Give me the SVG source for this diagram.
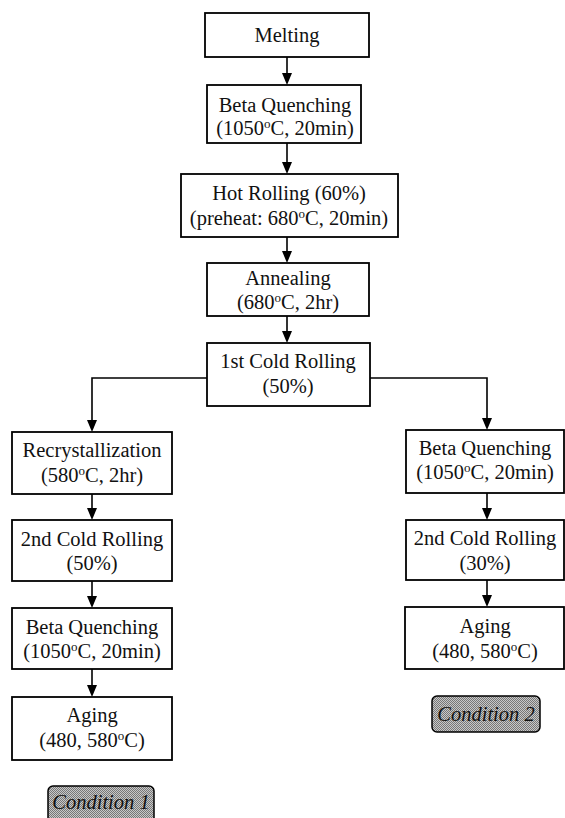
<svg xmlns="http://www.w3.org/2000/svg" width="565" height="818" viewBox="0 0 565 818">
<style>
.box{fill:#fff;stroke:#000;stroke-width:1.8}
text{font-family:'Liberation Serif','Times New Roman',Times,'DejaVu Serif',serif}
.t{font-size:20.5px;text-anchor:middle;fill:#111}
.sup{font-size:13px}
.cond{fill:url(#hatch);stroke:#000;stroke-width:1.5}
.ct{font-size:20.5px;font-style:italic;text-anchor:middle;fill:#111}
.c{fill:none;stroke:#000;stroke-width:1.6}
</style>
<defs>
<pattern id="hatch" width="2" height="2" patternUnits="userSpaceOnUse">
<rect width="2" height="2" fill="#c8c8c8"/>
<rect width="1" height="1" fill="#777"/>
<rect x="1" y="1" width="1" height="1" fill="#777"/>
</pattern>
</defs>
<rect width="565" height="818" fill="#fff"/>
<g id="connectors">
<path class="c" d="M287,57 V73"/>
<path class="c" d="M287,143 V162"/>
<path class="c" d="M287,237 V251"/>
<path class="c" d="M287,316 V331"/>
<path class="c" d="M207,378 H92 V420"/>
<path class="c" d="M370,378 H487 V418"/>
<path class="c" d="M92,494 V508"/>
<path class="c" d="M92,581 V596"/>
<path class="c" d="M92,669 V685"/>
<path class="c" d="M487,493 V508"/>
<path class="c" d="M487,580 V595"/>
<g fill="#000">
<path d="M282,73 L292,73 L287,85 Z"/>
<path d="M282,162 L292,162 L287,174 Z"/>
<path d="M282,251 L292,251 L287,263 Z"/>
<path d="M282,331 L292,331 L287,343 Z"/>
<path d="M87,420 L97,420 L92,432 Z"/>
<path d="M482,418 L492,418 L487,430 Z"/>
<path d="M87,508 L97,508 L92,520 Z"/>
<path d="M87,596 L97,596 L92,608 Z"/>
<path d="M87,685 L97,685 L92,697 Z"/>
<path d="M482,508 L492,508 L487,520 Z"/>
<path d="M482,595 L492,595 L487,607 Z"/>
</g>
</g>
<g id="melting">
<rect class="box" x="205" y="13" width="164" height="44"/>
<text class="t" x="287" y="42">Melting</text>
</g>
<g id="beta1">
<rect class="box" x="207" y="85" width="154" height="58"/>
<text class="t" x="285" y="112">Beta Quenching</text>
<text class="t" x="285" y="135">(1050<tspan class="sup" dy="-7">o</tspan><tspan dy="7">C, 20min)</tspan></text>
</g>
<g id="hotrolling">
<rect class="box" x="181" y="174" width="217" height="63"/>
<text class="t" x="289" y="200">Hot Rolling (60%)</text>
<text class="t" x="289" y="225">(preheat: 680<tspan class="sup" dy="-7">o</tspan><tspan dy="7">C, 20min)</tspan></text>
</g>
<g id="annealing">
<rect class="box" x="207" y="263" width="162" height="53"/>
<text class="t" x="288" y="285">Annealing</text>
<text class="t" x="288" y="309">(680<tspan class="sup" dy="-7">o</tspan><tspan dy="7">C, 2hr)</tspan></text>
</g>
<g id="cold1">
<rect class="box" x="207" y="343" width="163" height="63"/>
<text class="t" x="288" y="368">1st Cold Rolling</text>
<text class="t" x="288" y="393">(50%)</text>
</g>
<g id="recryst">
<rect class="box" x="12" y="432" width="160" height="62"/>
<text class="t" x="92" y="457">Recrystallization</text>
<text class="t" x="92" y="482">(580<tspan class="sup" dy="-7">o</tspan><tspan dy="7">C, 2hr)</tspan></text>
</g>
<g id="cold2a">
<rect class="box" x="12" y="520" width="160" height="61"/>
<text class="t" x="92" y="546">2nd Cold Rolling</text>
<text class="t" x="92" y="570">(50%)</text>
</g>
<g id="beta2">
<rect class="box" x="12" y="608" width="160" height="61"/>
<text class="t" x="92" y="634">Beta Quenching</text>
<text class="t" x="92" y="658">(1050<tspan class="sup" dy="-7">o</tspan><tspan dy="7">C, 20min)</tspan></text>
</g>
<g id="aging1">
<rect class="box" x="12" y="697" width="160" height="63"/>
<text class="t" x="92" y="722">Aging</text>
<text class="t" x="92" y="747">(480, 580<tspan class="sup" dy="-7">o</tspan><tspan dy="7">C)</tspan></text>
</g>
<g id="cond1">
<rect class="cond" x="48" y="786" width="106" height="40" rx="5"/>
<text class="ct" x="101" y="809">Condition 1</text>
</g>
<g id="beta3">
<rect class="box" x="406" y="430" width="158" height="63"/>
<text class="t" x="485" y="455">Beta Quenching</text>
<text class="t" x="485" y="479">(1050<tspan class="sup" dy="-7">o</tspan><tspan dy="7">C, 20min)</tspan></text>
</g>
<g id="cold2b">
<rect class="box" x="406" y="520" width="158" height="60"/>
<text class="t" x="485" y="545">2nd Cold Rolling</text>
<text class="t" x="485" y="570">(30%)</text>
</g>
<g id="aging2">
<rect class="box" x="405" y="607" width="159" height="62"/>
<text class="t" x="485" y="633">Aging</text>
<text class="t" x="485" y="658">(480, 580<tspan class="sup" dy="-7">o</tspan><tspan dy="7">C)</tspan></text>
</g>
<g id="cond2">
<rect class="cond" x="432" y="696" width="108" height="36" rx="5"/>
<text class="ct" x="486" y="721">Condition 2</text>
</g>
</svg>
